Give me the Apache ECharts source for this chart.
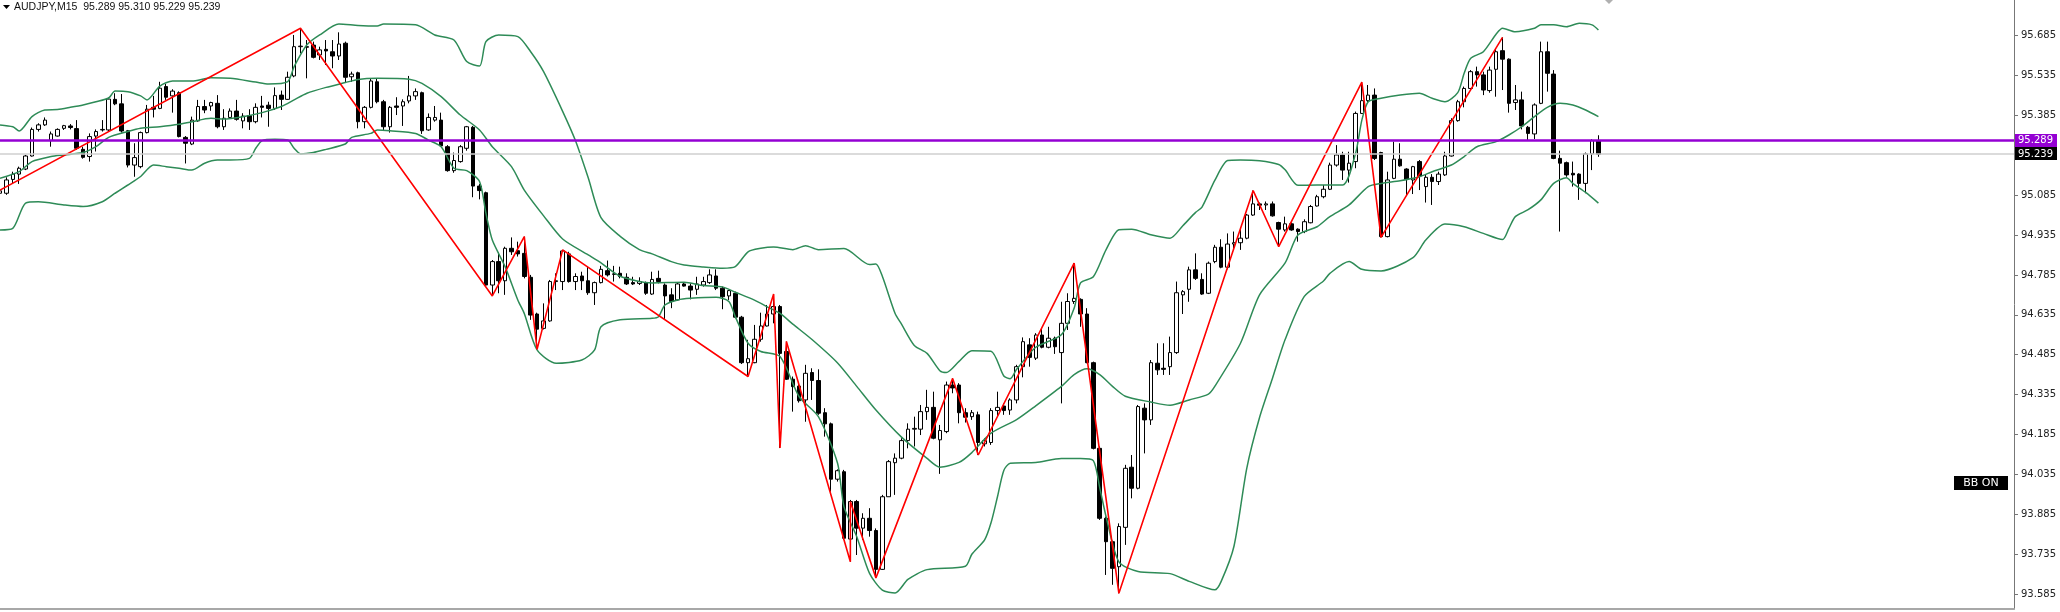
<!DOCTYPE html>
<html><head><meta charset="utf-8">
<script src="https://cdn.jsdelivr.net/npm/echarts@6/dist/echarts.min.js"></script>
<style>html,body{margin:0;padding:0;background:#fff;}#c{width:2060px;height:612px;}</style>
</head><body><div id="c"></div>
<script>
const titleText = 'AUDJPY,M15  95.289 95.310 95.229 95.239';
const purpleLevel = 95.289;
const bidLevel = 95.239;
const tickVals = [93.585,93.735,93.885,94.035,94.185,94.335,94.485,94.635,94.785,94.935,95.085,95.235,95.385,95.535,95.685];
const yMin = 93.529, yMax = 95.8185;
const slotCount = 316;

const open = [
95.092,95.092,95.144,95.164,95.183,95.232,95.332,95.349,95.290,95.307,
95.336,95.345,95.335,95.257,95.230,95.307,95.330,95.330,95.445,95.428,
95.327,95.198,95.192,95.320,95.415,95.411,95.493,95.458,95.470,95.302,
95.277,95.364,95.418,95.420,95.430,95.342,95.377,95.401,95.364,95.384,
95.361,95.420,95.423,95.411,95.461,95.445,95.533,95.643,95.643,95.649,
95.612,95.633,95.624,95.608,95.656,95.530,95.545,95.361,95.415,95.511,
95.436,95.342,95.420,95.420,95.439,95.458,95.470,95.330,95.367,95.367,
95.267,95.177,95.211,95.261,95.340,95.119,95.094,94.747,94.835,94.763,
94.885,94.876,94.866,94.776,94.638,94.584,94.612,94.760,94.760,94.864,
94.760,94.781,94.763,94.718,94.756,94.801,94.787,94.791,94.776,94.756,
94.753,94.756,94.713,94.772,94.747,94.710,94.691,94.751,94.743,94.731,
94.747,94.756,94.781,94.735,94.706,94.716,94.626,94.455,94.455,94.543,
94.593,94.638,94.666,94.497,94.393,94.367,94.315,94.418,94.388,94.267,
94.225,94.017,94.045,93.792,93.933,93.833,93.870,93.824,93.678,93.951,
94.079,94.096,94.162,94.205,94.205,94.271,94.287,94.165,94.196,94.371,
94.371,94.267,94.252,94.259,94.150,94.155,94.275,94.292,94.277,94.315,
94.440,94.522,94.472,94.559,94.513,94.547,94.493,94.603,94.685,94.693,
94.638,94.455,94.133,93.870,93.782,93.688,93.836,94.062,93.983,94.284,
94.240,94.453,94.434,94.440,94.493,94.710,94.731,94.804,94.768,94.716,
94.835,94.889,94.814,94.901,94.906,94.923,95.010,95.052,95.048,95.052,
94.982,94.954,94.977,94.957,94.948,94.981,95.044,95.079,95.107,95.198,
95.236,95.179,95.211,95.392,95.440,95.461,95.245,94.929,95.148,95.220,
95.183,95.142,95.211,95.117,95.152,95.136,95.161,95.232,95.365,95.436,
95.486,95.549,95.537,95.478,95.558,95.628,95.596,95.433,95.443,95.340,
95.315,95.430,95.624,95.540,95.223,95.207,95.167,95.164,95.129,95.240,
95.289];
const high = [
95.111,95.152,95.173,95.192,95.236,95.339,95.355,95.377,95.324,95.336,
95.349,95.352,95.367,95.267,95.317,95.332,95.367,95.452,95.468,95.465,
95.330,95.280,95.324,95.424,95.458,95.511,95.503,95.483,95.475,95.307,
95.380,95.443,95.443,95.436,95.461,95.408,95.411,95.443,95.393,95.408,
95.430,95.458,95.436,95.490,95.478,95.549,95.687,95.712,95.668,95.662,
95.643,95.668,95.668,95.697,95.662,95.549,95.549,95.420,95.524,95.524,
95.443,95.420,95.453,95.445,95.533,95.486,95.474,95.392,95.420,95.395,
95.273,95.245,95.273,95.345,95.345,95.127,95.098,94.841,94.869,94.891,
94.926,94.910,94.929,94.785,94.643,94.678,94.766,94.791,94.879,94.872,
94.791,94.797,94.816,94.760,94.819,94.839,94.819,94.816,94.791,94.778,
94.776,94.760,94.797,94.801,94.753,94.735,94.756,94.756,94.753,94.778,
94.778,94.806,94.806,94.741,94.728,94.722,94.631,94.541,94.597,94.643,
94.672,94.713,94.672,94.534,94.403,94.378,94.447,94.434,94.430,94.284,
94.230,94.054,94.052,93.939,93.939,93.889,93.908,93.832,93.958,94.089,
94.114,94.171,94.227,94.252,94.296,94.353,94.346,94.221,94.384,94.396,
94.378,94.284,94.277,94.271,94.171,94.284,94.346,94.302,94.321,94.447,
94.550,94.547,94.566,94.584,94.590,94.553,94.684,94.716,94.829,94.697,
94.660,94.459,94.140,93.876,93.786,93.851,94.071,94.108,94.296,94.302,
94.465,94.528,94.528,94.553,94.760,94.728,94.816,94.866,94.791,94.835,
94.898,94.919,94.941,94.948,94.960,95.014,95.102,95.057,95.061,95.061,
94.985,95.004,94.982,94.960,94.994,95.048,95.086,95.123,95.207,95.273,
95.248,95.248,95.399,95.510,95.499,95.486,95.248,95.173,95.286,95.280,
95.186,95.195,95.217,95.164,95.164,95.173,95.248,95.374,95.443,95.493,
95.555,95.568,95.549,95.568,95.637,95.678,95.599,95.499,95.474,95.345,
95.430,95.662,95.662,95.555,95.252,95.211,95.211,95.167,95.245,95.295,
95.310];
const low = [
95.067,95.086,95.129,95.127,95.179,95.230,95.324,95.345,95.267,95.305,
95.330,95.332,95.255,95.222,95.211,95.249,95.324,95.324,95.423,95.320,
95.189,95.154,95.186,95.317,95.377,95.408,95.443,95.395,95.302,95.204,
95.273,95.361,95.393,95.402,95.336,95.330,95.374,95.365,95.336,95.330,
95.355,95.377,95.342,95.405,95.405,95.443,95.528,95.618,95.524,95.599,
95.593,95.574,95.562,95.593,95.508,95.511,95.336,95.336,95.411,95.430,
95.330,95.320,95.386,95.345,95.430,95.443,95.315,95.327,95.361,95.267,
95.173,95.169,95.207,95.252,95.077,95.069,94.743,94.706,94.716,94.710,
94.860,94.854,94.772,94.616,94.505,94.580,94.609,94.728,94.728,94.756,
94.728,94.728,94.710,94.672,94.753,94.779,94.760,94.772,94.747,94.747,
94.747,94.710,94.710,94.753,94.616,94.660,94.688,94.741,94.693,94.710,
94.741,94.751,94.728,94.656,94.691,94.622,94.450,94.403,94.453,94.534,
94.591,94.603,94.134,94.390,94.271,94.305,94.233,94.315,94.259,94.177,
93.970,94.008,93.789,93.707,93.732,93.789,93.801,93.646,93.676,93.951,
93.958,94.092,94.133,94.140,94.183,94.240,94.167,94.037,94.190,94.340,
94.227,94.230,94.240,94.108,94.140,94.146,94.252,94.259,94.259,94.302,
94.400,94.440,94.465,94.509,94.509,94.488,94.302,94.578,94.676,94.590,
94.453,94.129,93.864,93.657,93.620,93.588,93.770,93.945,93.979,94.114,
94.221,94.409,94.409,94.409,94.488,94.638,94.684,94.766,94.710,94.713,
94.829,94.810,94.806,94.879,94.879,94.919,95.007,95.029,95.029,95.004,
94.891,94.948,94.951,94.910,94.942,94.979,95.042,95.073,95.104,95.192,
95.142,95.132,95.186,95.390,95.433,95.217,94.926,94.926,95.145,95.192,
95.085,95.089,95.104,95.057,95.048,95.123,95.157,95.230,95.361,95.415,
95.480,95.493,95.461,95.470,95.455,95.480,95.395,95.405,95.332,95.290,
95.296,95.427,95.474,95.220,94.948,95.154,95.117,95.067,95.092,95.179,
95.229];
const close = [
95.101,95.142,95.164,95.186,95.232,95.332,95.349,95.367,95.315,95.332,
95.346,95.339,95.261,95.227,95.305,95.324,95.332,95.446,95.428,95.326,
95.198,95.226,95.320,95.408,95.408,95.487,95.453,95.476,95.305,95.280,
95.367,95.418,95.405,95.433,95.342,95.374,95.401,95.370,95.382,95.361,
95.415,95.415,95.411,95.459,95.445,95.528,95.643,95.645,95.641,95.603,
95.631,95.627,95.608,95.653,95.528,95.540,95.361,95.415,95.514,95.436,
95.342,95.415,95.415,95.436,95.458,95.474,95.327,95.377,95.377,95.270,
95.177,95.215,95.267,95.342,95.119,95.102,94.747,94.835,94.763,94.885,
94.872,94.864,94.779,94.634,94.581,94.612,94.760,94.763,94.875,94.760,
94.779,94.763,94.718,94.756,94.806,94.785,94.789,94.779,94.751,94.751,
94.760,94.716,94.768,94.760,94.706,94.685,94.751,94.743,94.728,94.751,
94.760,94.785,94.735,94.703,94.726,94.626,94.455,94.470,94.543,94.593,
94.638,94.666,94.490,94.393,94.365,94.312,94.415,94.388,94.265,94.225,
94.017,94.049,93.795,93.933,93.833,93.870,93.824,93.678,93.951,94.083,
94.096,94.162,94.205,94.208,94.271,94.287,94.171,94.200,94.371,94.360,
94.267,94.250,94.267,94.155,94.162,94.275,94.287,94.275,94.315,94.440,
94.534,94.475,94.559,94.513,94.547,94.515,94.603,94.685,94.697,94.638,
94.455,94.133,93.870,93.782,93.682,93.839,94.058,93.983,94.290,94.240,
94.455,94.428,94.430,94.493,94.718,94.722,94.804,94.772,94.713,94.829,
94.889,94.814,94.901,94.906,94.923,95.010,95.052,95.047,95.052,95.007,
94.957,94.977,94.954,94.948,94.985,95.042,95.079,95.107,95.198,95.236,
95.179,95.205,95.392,95.440,95.461,95.223,94.929,95.142,95.220,95.195,
95.144,95.192,95.157,95.152,95.136,95.164,95.232,95.365,95.436,95.486,
95.549,95.537,95.480,95.555,95.624,95.596,95.430,95.443,95.345,95.317,
95.424,95.624,95.543,95.223,95.205,95.161,95.161,95.129,95.240,95.290,
95.239];

const upperIdx = [0,2,3,5,7,9,11,13,15,17,18,20,22,23,25,27,30,33,36,40,42,45,46,48,50,53,56,59,60,65,68,71,73,75,76,78,81,83,85,88,90,92,94,97,100,102,105,107,110,113,115,117,119,121,124,126,128,132,136,137,138,140,141,143,145,147,148,150,152,155,157,158,159,162,166,168,169,171,173,175,177,180,183,185,187,188,190,192,194,197,200,201,203,206,210,212,213,214,216,219,222,224,226,228,229,230,232,234,235,237,240,241,243,245,247,249,250];
const upperVal = [95.349,95.342,95.326,95.380,95.405,95.407,95.415,95.424,95.436,95.450,95.476,95.474,95.458,95.443,95.495,95.514,95.514,95.526,95.524,95.510,95.503,95.512,95.568,95.650,95.687,95.728,95.723,95.721,95.728,95.725,95.687,95.668,95.587,95.570,95.662,95.687,95.681,95.624,95.550,95.400,95.290,95.150,95.000,94.930,94.880,94.864,94.835,94.822,94.815,94.810,94.816,94.872,94.885,94.890,94.880,94.895,94.880,94.884,94.824,94.826,94.780,94.640,94.600,94.520,94.490,94.425,94.418,94.460,94.500,94.498,94.405,94.395,94.430,94.513,94.560,94.660,94.755,94.778,94.880,94.955,94.957,94.936,94.923,94.970,95.020,95.040,95.140,95.215,95.217,95.214,95.200,95.180,95.122,95.123,95.123,95.240,95.367,95.436,95.449,95.461,95.468,95.449,95.436,95.470,95.543,95.599,95.624,95.690,95.712,95.699,95.712,95.725,95.725,95.718,95.731,95.725,95.706];
const midIdx = [0,3,5,8,10,13,15,17,20,22,25,28,30,33,35,38,41,44,46,48,51,54,56,59,64,66,69,72,75,77,80,82,85,88,92,94,97,102,107,110,113,115,118,120,122,124,127,131,134,137,141,145,147,150,152,155,159,162,166,168,170,172,174,176,180,183,186,189,190,194,197,201,203,206,208,211,214,216,219,222,224,227,229,231,234,236,238,240,242,244,246,248,250];
const midVal = [95.148,95.173,95.211,95.230,95.236,95.245,95.267,95.302,95.324,95.336,95.342,95.351,95.361,95.374,95.371,95.380,95.395,95.418,95.443,95.468,95.490,95.508,95.520,95.524,95.521,95.505,95.455,95.386,95.330,95.267,95.192,95.104,95.008,94.920,94.860,94.830,94.780,94.755,94.757,94.745,94.740,94.720,94.690,94.665,94.640,94.600,94.542,94.454,94.366,94.277,94.175,94.095,94.062,94.080,94.117,94.190,94.241,94.293,94.366,94.410,94.432,94.410,94.366,94.329,94.307,94.295,94.315,94.337,94.366,94.527,94.710,94.830,94.935,94.966,95.004,95.048,95.117,95.129,95.139,95.154,95.173,95.198,95.230,95.267,95.286,95.311,95.342,95.380,95.415,95.430,95.424,95.405,95.380];
const lowerIdx = [0,2,4,6,10,13,16,18,20,22,24,26,28,30,32,34,36,39,40,41,43,45,46,47,49,51,54,55,58,59,61,65,67,69,71,73,75,76,77,79,81,82,84,87,91,93,94,97,102,103,104,106,108,112,114,115,117,119,122,125,128,131,132,134,136,138,140,142,145,151,152,154,155,156,157,158,162,166,169,171,172,173,175,178,183,186,190,191,193,195,197,199,201,204,207,208,211,213,216,221,223,226,229,232,235,236,237,239,241,243,245,246,248,250];
const lowerVal = [94.954,94.960,95.055,95.060,95.048,95.042,95.060,95.092,95.123,95.155,95.198,95.192,95.186,95.179,95.205,95.217,95.217,95.223,95.261,95.290,95.295,95.292,95.261,95.240,95.245,95.257,95.277,95.302,95.317,95.330,95.327,95.317,95.292,95.267,95.186,95.177,95.136,95.017,94.916,94.816,94.690,94.640,94.503,94.453,94.465,94.503,94.590,94.616,94.622,94.628,94.672,94.691,94.697,94.701,94.685,94.628,94.528,94.497,94.478,94.327,94.252,94.077,93.914,93.801,93.663,93.600,93.589,93.640,93.677,93.690,93.735,93.789,93.853,93.950,94.050,94.077,94.080,94.095,94.095,94.087,93.985,93.876,93.706,93.670,93.662,93.633,93.601,93.633,93.765,94.058,94.249,94.395,94.542,94.704,94.762,94.791,94.835,94.806,94.800,94.850,94.916,94.976,94.966,94.941,94.918,94.960,95.004,95.030,95.067,95.129,95.150,95.129,95.095,95.055];
const zzIdx = [0,47,77,82,84,88,117,121,122,123,133,133,137,149,153,168,175,196,200,213,216,235];
const zzVal = [95.104,95.712,94.706,94.929,94.505,94.879,94.403,94.713,94.134,94.535,93.707,93.933,93.646,94.396,94.108,94.829,93.588,95.102,94.891,95.510,94.926,95.678];

const cats = Array.from({length: slotCount}, (_, i) => String(i));
const candleData = open.map((o, i) => [o, close[i], low[i], high[i]]);
const pair = (a, b) => a.map((x, k) => [x, b[k]]);
const green = '#2E8B57';
const bandLine = (name, idx, val) => ({
  name, type: 'line', data: pair(idx, val), symbol: 'none', smooth: 0.25,
  lineStyle: {color: green, width: 1.5}, z: 3, silent: true
});

const chart = echarts.init(document.getElementById('c'), null, {renderer: 'canvas', width: 2060, height: 612});
chart.setOption({
  animation: false,
  backgroundColor: '#ffffff',
  grid: {left: 0, right: 46, top: 0, bottom: 3},
  xAxis: {
    type: 'category', data: cats, boundaryGap: false,
    axisLine: {show: true, lineStyle: {color: '#a8a8a8', width: 2}},
    axisTick: {show: false}, axisLabel: {show: false}, splitLine: {show: false}
  },
  yAxis: {
    type: 'value', position: 'right', min: yMin, max: yMax,
    axisLine: {show: true, lineStyle: {color: '#777', width: 1}},
    axisTick: {show: true, length: 4, customValues: tickVals, lineStyle: {color: '#777'}},
    axisLabel: {show: true, customValues: tickVals, formatter: v => v.toFixed(3), color: '#222',
      fontSize: 10, fontFamily: 'DejaVu Sans', margin: 7},
    splitLine: {show: false}
  },
  series: [
    {
      type: 'candlestick', data: candleData, barWidth: 4, z: 2,
      itemStyle: {color: '#ffffff', color0: '#000000', borderColor: '#000000', borderColor0: '#000000', borderWidth: 1},
      markLine: {
        symbol: ['none', 'none'], silent: true, label: {show: false},
        data: [
          {yAxis: bidLevel, lineStyle: {color: '#cfcfcf', width: 1.5, type: 'solid'}},
          {yAxis: purpleLevel, lineStyle: {color: '#9400D3', width: 2.5, type: 'solid'}}
        ]
      }
    },
    bandLine('upper', upperIdx, upperVal),
    bandLine('middle', midIdx, midVal),
    bandLine('lower', lowerIdx, lowerVal),
    {
      name: 'zigzag', type: 'line', data: pair(zzIdx, zzVal), symbol: 'none',
      lineStyle: {color: '#ff0000', width: 1.6}, z: 4, silent: true
    }
  ]
});

const yp = chart.convertToPixel({yAxisIndex: 0}, purpleLevel);
const yb = chart.convertToPixel({yAxisIndex: 0}, bidLevel);
const boxText = (x, y, txt, fontSize) => ({
  type: 'text', z: 101,
  style: {text: txt, x: x, y: y, fill: '#fff', font: fontSize + 'px "DejaVu Sans"',
    textAlign: 'left', textVerticalAlign: 'middle', align: 'left', verticalAlign: 'middle'}
});
chart.setOption({
  graphic: [
    {type: 'polygon', z: 100, shape: {points: [[3, 5], [10, 5], [6.5, 9]]}, style: {fill: '#000'}},
    {type: 'text', z: 100, style: {text: titleText, x: 14, y: 7, fill: '#111', font: '10.5px "Liberation Sans"',
      textVerticalAlign: 'middle', verticalAlign: 'middle'}},
    {type: 'polygon', z: 100, shape: {points: [[1605, 0], [1613, 0], [1609, 4]]}, style: {fill: '#b0b0b0'}},
    {type: 'rect', z: 100, shape: {x: 2015, y: Math.round(yp) - 7, width: 42, height: 13}, style: {fill: '#9400D3'}},
    boxText(2018, yp, purpleLevel.toFixed(3), 10),
    {type: 'rect', z: 100, shape: {x: 2015, y: Math.round(yb) - 7, width: 42, height: 13}, style: {fill: '#000'}},
    boxText(2018, yb, bidLevel.toFixed(3), 10),
    {type: 'rect', z: 100, shape: {x: 1954, y: 476, width: 54, height: 14}, style: {fill: '#000'}},
    {type: 'text', z: 101, style: {text: 'BB ON', x: 1981, y: 483, fill: '#fff', font: '11px "DejaVu Sans"',
      textAlign: 'center', textVerticalAlign: 'middle', align: 'center', verticalAlign: 'middle'}}
  ]
});
</script>
</body></html>
